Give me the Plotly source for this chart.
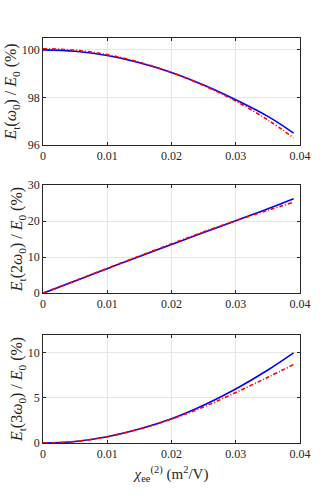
import plotly.graph_objects as go

# chi_ee^(2) (m^2/V)
chi = [0, 0.005, 0.01, 0.015, 0.02, 0.025, 0.03, 0.035, 0.039]

# E_t(w0)/E0 (%)
w1_blue = [100.0, 99.94, 99.76, 99.46, 99.05, 98.52, 97.9, 97.2, 96.5]
w1_red = [100.05, 99.99, 99.80, 99.48, 99.05, 98.5, 97.85, 97.05, 96.3]

# E_t(2w0)/E0 (%)
w2_blue = [0, 3.4, 6.8, 10.2, 13.5, 16.8, 20.1, 23.4, 26.2]
w2_red = [0, 3.45, 6.9, 10.3, 13.7, 17.0, 20.1, 23.0, 25.2]

# E_t(3w0)/E0 (%)
w3_blue = [0, 0.17, 0.7, 1.55, 2.7, 4.2, 6.0, 8.1, 10.0]
w3_red = [0, 0.17, 0.7, 1.55, 2.65, 4.0, 5.6, 7.3, 8.7]

xticks = [0, 0.01, 0.02, 0.03, 0.04]
xlabels = ['0', '0.01', '0.02', '0.03', '0.04']

panels = [
    (w1_blue, w1_red, [96, 100.5], [96, 98, 100],
     '<i>E</i><sub>t</sub>(<i>ω</i><sub>0</sub>) / <i>E</i><sub>0</sub> (%)', [0.736, 1.0]),
    (w2_blue, w2_red, [0, 30], [0, 10, 20, 30],
     '<i>E</i><sub>t</sub>(2<i>ω</i><sub>0</sub>) / <i>E</i><sub>0</sub> (%)', [0.370, 0.637]),
    (w3_blue, w3_red, [0, 12], [0, 5, 10],
     '<i>E</i><sub>t</sub>(3<i>ω</i><sub>0</sub>) / <i>E</i><sub>0</sub> (%)', [0.0, 0.267]),
]

font = 'Liberation Serif'
fig = go.Figure()
layout = {}
for i, (b, r, yr, yt, title, dom) in enumerate(panels, start=1):
    xa = 'x' if i == 1 else f'x{i}'
    ya = 'y' if i == 1 else f'y{i}'
    fig.add_trace(go.Scatter(x=chi, y=b, mode='lines', line=dict(color='#0000ff', width=1.6, shape='spline'),
                             xaxis=xa, yaxis=ya, showlegend=False))
    fig.add_trace(go.Scatter(x=chi, y=r, mode='lines',
                             line=dict(color='#ff0000', width=1.6, dash='4px,2px,1px,2px', shape='spline'),
                             xaxis=xa, yaxis=ya, showlegend=False))
    axis_common = dict(showline=True, linecolor='#262626', linewidth=0.8, mirror='ticks',
                       ticks='inside', ticklen=3, tickcolor='#262626', automargin=False,
                       showgrid=True, gridcolor='#e6e6e6', gridwidth=0.8, zeroline=False,
                       tickfont=dict(family=font, size=12, color='#262626'))
    layout[f'xaxis{"" if i == 1 else i}'] = dict(axis_common, range=[0, 0.04], tickvals=xticks, ticktext=xlabels,
                                                 anchor=ya, domain=[0, 1])
    layout[f'yaxis{"" if i == 1 else i}'] = dict(axis_common, range=yr, tickvals=yt, anchor=xa, domain=dom,
                                                 title=dict(text=title, font=dict(family=font, size=16, color='#262626'),
                                                            standoff=0))

layout['xaxis3']['title'] = dict(text='<i>χ</i><sub>ee</sub><sup>(2)</sup> (m<sup>2</sup>/V)',
                                 font=dict(family=font, size=15, color='#262626'), standoff=8)

fig.update_layout(**layout)
fig.update_layout(width=332, height=498, margin=dict(l=43, r=32, t=38, b=55),
                  plot_bgcolor='white', paper_bgcolor='white', font=dict(family=font))
fig.write_html('out.html', config={'displayModeBar': False},
               post_script="document.body.style.margin='0';")
